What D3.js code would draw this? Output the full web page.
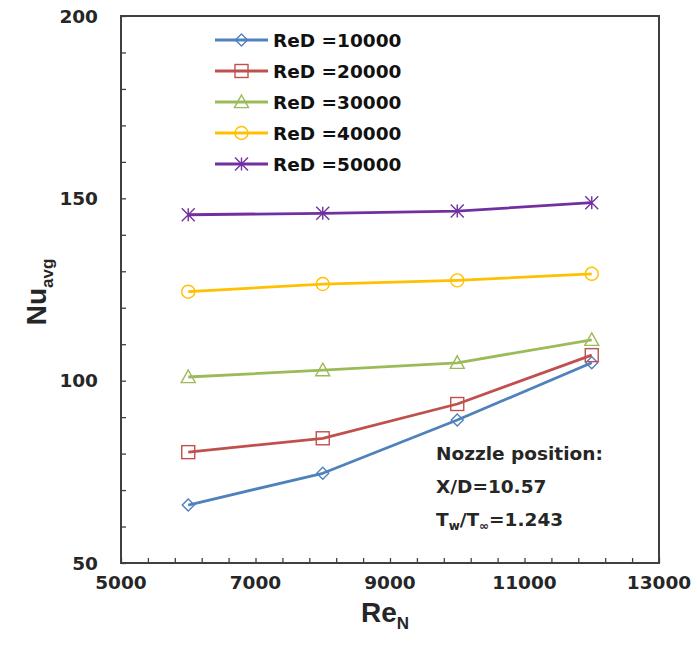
<!DOCTYPE html>
<html>
<head>
<meta charset="utf-8">
<script src="https://cdn.jsdelivr.net/npm/d3@7"></script>
<style>
  html, body { margin: 0; padding: 0; background: #fff; }
  svg { display: block; }
</style>
</head>
<body>
<svg id="chart" width="697" height="655"></svg>
<script>
// ---- data ----
const reN = [6000, 8000, 10000, 12000];
const seriesNames = ["ReD =10000", "ReD =20000", "ReD =30000", "ReD =40000", "ReD =50000"];
const nu10000 = [65.9, 74.6, 89.2, 104.9];
const nu20000 = [80.4, 84.2, 93.6, 107.0];
const nu30000 = [101.0, 102.9, 104.9, 111.2];
const nu40000 = [124.4, 126.5, 127.5, 129.3];
const nu50000 = [145.5, 145.9, 146.5, 148.8];
const xTicks = [5000, 7000, 9000, 11000, 13000];
const yTicks = [50, 100, 150, 200];
const colors = ["#4F81BD", "#C0504D", "#9BBB59", "#FFC000", "#7030A0"];
const markers = ["diamond", "square", "triangle", "circle", "star"];

const series = [nu10000, nu20000, nu30000, nu40000, nu50000].map((v, i) => ({
  name: seriesNames[i], values: v, color: colors[i], marker: markers[i]
}));

// ---- layout ----
const svg = d3.select("#chart");
const M = { left: 121, right: 659, top: 16, bottom: 563 };
const x = d3.scaleLinear().domain([5000, 13000]).range([M.left, M.right]);
const y = d3.scaleLinear().domain([50, 200]).range([M.bottom, M.top]);
const axisColor = "#404040";
const textColor = "#262626";
const FONT = "'DejaVu Sans', Verdana, sans-serif";

// ticks inside (major & minor)
const xAxis = d3.axisBottom(x).tickValues(d3.range(5000, 13001, 400)).tickSize(-5).tickFormat("");
const yAxis = d3.axisLeft(y).tickValues(d3.range(50, 201, 10)).tickSize(-5).tickFormat("");
const gx = svg.append("g").attr("transform", `translate(0,${M.bottom})`).call(xAxis);
const gy = svg.append("g").attr("transform", `translate(${M.left},0)`).call(yAxis);
[gx, gy].forEach(g => {
  g.select(".domain").remove();
  g.selectAll(".tick line").attr("stroke", axisColor).attr("stroke-width", 1.3);
});

// frame
svg.append("rect")
  .attr("x", M.left).attr("y", M.top)
  .attr("width", M.right - M.left).attr("height", M.bottom - M.top)
  .attr("fill", "none").attr("stroke", axisColor).attr("stroke-width", 2);

// tick labels
svg.append("g").selectAll("text").data(yTicks).join("text")
  .attr("x", 98).attr("y", d => y(d)).attr("dy", "0.36em")
  .attr("text-anchor", "end")
  .attr("font-family", FONT).attr("font-weight", "bold").attr("font-size", 18.5)
  .attr("fill", textColor).text(d => d);

svg.append("g").selectAll("text").data(xTicks).join("text")
  .attr("x", d => x(d)).attr("y", 582).attr("dy", "0.36em")
  .attr("text-anchor", "middle")
  .attr("font-family", FONT).attr("font-weight", "bold").attr("font-size", 18.5)
  .attr("fill", textColor).text(d => d);

// axis titles
const xt = svg.append("text")
  .attr("x", 385).attr("y", 622).attr("text-anchor", "middle")
  .attr("font-family", "'Liberation Sans', Arial, sans-serif").attr("font-weight", "bold")
  .attr("font-size", 28).attr("fill", textColor);
xt.append("tspan").text("Re");
xt.append("tspan").attr("font-size", 17).attr("dy", 7).text("N");

const yt = svg.append("text")
  .attr("transform", "translate(46,292) rotate(-90)").attr("text-anchor", "middle")
  .attr("font-family", "'Liberation Sans', Arial, sans-serif").attr("font-weight", "bold")
  .attr("font-size", 28).attr("fill", textColor);
yt.append("tspan").text("Nu");
yt.append("tspan").attr("font-size", 17).attr("dy", 7).text("avg");

// marker drawing
function drawMarker(g, type, cx, cy, color) {
  const sw = 1.4;
  if (type === "diamond") {
    const s = 6;
    g.append("path").attr("d", `M${cx},${cy - s}L${cx + s},${cy}L${cx},${cy + s}L${cx - s},${cy}Z`)
      .attr("fill", "none").attr("stroke", color).attr("stroke-width", sw);
  } else if (type === "square") {
    const s = 6.5;
    g.append("rect").attr("x", cx - s).attr("y", cy - s).attr("width", 2 * s).attr("height", 2 * s)
      .attr("fill", "none").attr("stroke", color).attr("stroke-width", sw);
  } else if (type === "triangle") {
    const s = 7;
    g.append("path").attr("d", `M${cx},${cy - s}L${cx + s},${cy + s * 0.8}L${cx - s},${cy + s * 0.8}Z`)
      .attr("fill", "none").attr("stroke", color).attr("stroke-width", sw);
  } else if (type === "circle") {
    g.append("circle").attr("cx", cx).attr("cy", cy).attr("r", 6.5)
      .attr("fill", "none").attr("stroke", color).attr("stroke-width", sw);
  } else if (type === "star") {
    const s = 6.5;
    g.append("path")
      .attr("d", `M${cx - s},${cy - s}L${cx + s},${cy + s}M${cx + s},${cy - s}L${cx - s},${cy + s}M${cx},${cy - s}L${cx},${cy + s}`)
      .attr("fill", "none").attr("stroke", color).attr("stroke-width", sw);
  }
}

// lines
const line = d3.line().x((d, i) => x(reN[i])).y(d => y(d));
const plot = svg.append("g");
series.forEach(s => {
  plot.append("path").datum(s.values).attr("d", line)
    .attr("fill", "none").attr("stroke", s.color).attr("stroke-width", 2.8)
    .attr("stroke-linejoin", "round");
  const mg = plot.append("g");
  s.values.forEach((v, i) => drawMarker(mg, s.marker, x(reN[i]), y(v), s.color));
});

// legend
const legend = svg.append("g");
series.forEach((s, i) => {
  const ly = 40 + i * 31;
  legend.append("line").attr("x1", 215).attr("x2", 268).attr("y1", ly).attr("y2", ly)
    .attr("stroke", s.color).attr("stroke-width", 2.8);
  drawMarker(legend, s.marker, 241.5, ly, s.color);
  legend.append("text").attr("x", 273).attr("y", ly).attr("dy", "0.36em")
    .attr("font-family", FONT).attr("font-weight", "bold").attr("font-size", 18.5)
    .attr("fill", "#111").text(s.name);
});

// annotation
const ann = svg.append("g").attr("font-family", FONT).attr("font-weight", "bold")
  .attr("font-size", 18.5).attr("fill", textColor);
ann.append("text").attr("x", 436).attr("y", 453).attr("dy", "0.36em").text("Nozzle position:");
ann.append("text").attr("x", 436).attr("y", 486).attr("dy", "0.36em").text("X/D=10.57");
const t3 = ann.append("text").attr("x", 436).attr("y", 519).attr("dy", "0.36em");
t3.append("tspan").text("T");
t3.append("tspan").attr("font-size", 12).attr("dy", 4).text("w");
t3.append("tspan").attr("dy", -4).text("/T");
t3.append("tspan").attr("font-size", 12).attr("dy", 4).text("\u221E");
t3.append("tspan").attr("dy", -4).text("=1.243");
</script>
</body>
</html>
